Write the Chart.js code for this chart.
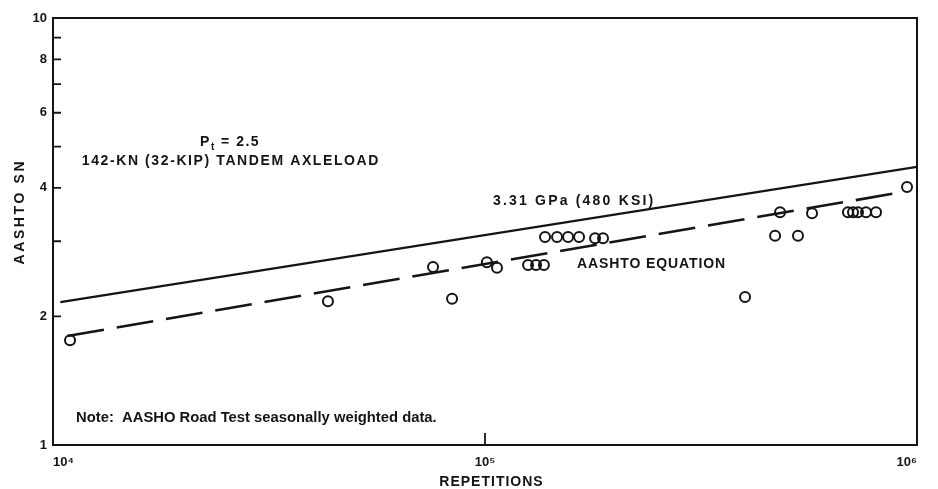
<!DOCTYPE html>
<html>
<head>
<meta charset="utf-8">
<script src="https://cdn.jsdelivr.net/npm/chart.js@4/dist/chart.umd.min.js"></script>
<style>
  html, body { margin: 0; padding: 0; background: #fff; }
  #wrap { width: 938px; height: 489px; }
</style>
</head>
<body>
<div id="wrap"><canvas id="c" width="938" height="489"></canvas></div>
<script>
// AASHO Road Test sections, seasonally weighted: load repetitions vs. structural number
const repetitions = [10950, 43300, 75800, 83900, 101000, 106600, 125800, 131300, 136900,
  137700, 146800, 155700, 165100, 179800, 187600, 399900, 469300, 530300,
  481900, 571500, 692100, 711000, 730200, 762000, 803900, 948200];
const structuralNumber = [1.76, 2.17, 2.61, 2.20, 2.68, 2.60, 2.64, 2.64, 2.64,
  3.07, 3.07, 3.07, 3.07, 3.05, 3.05, 2.22, 3.09, 3.09,
  3.51, 3.49, 3.51, 3.51, 3.51, 3.51, 3.51, 4.02];

// 3.31 GPa (480 ksi) design relation
const gpaRepetitions = [10400, 1000000];
const gpaSN = [2.16, 4.48];

// AASHTO equation
const aashtoRepetitions = [10800, 923000];
const aashtoSN = [1.80, 3.91];

// Axis ticks
const xTickValues = [1e4, 1e5, 1e6];
const xTickLabels = ['10⁴', '10⁵', '10⁶'];
const yTickValues = [1, 2, 3, 4, 5, 6, 7, 8, 9, 10];
const yTickLabels = ['1', '2', '', '4', '', '6', '', '8', '', '10'];

const INK = '#141414';
const FAMILY = '"Liberation Sans", Arial, Helvetica, sans-serif';

const toPoints = (xs, ys) => xs.map((x, i) => ({ x, y: ys[i] }));

// Text placed in data space
const annotations = [
  { text: '142-KN (32-KIP) TANDEM AXLELOAD', x: 25700, y: 4.62, align: 'center', spacing: 1.6 },
  { text: '3.31 GPa (480 KSI)', x: 104300, y: 3.73, align: 'left', spacing: 2.2 },
  { text: 'AASHTO EQUATION', x: 163300, y: 2.65, align: 'left', spacing: 0.9 }
];

function spacedText(ctx, text, x, y, spacing, align) {
  ctx.letterSpacing = spacing + 'px';
  const w = ctx.measureText(text).width - spacing;
  const left = align === 'center' ? x - w / 2 : x;
  ctx.textAlign = 'left';
  ctx.fillText(text, left, y);
  ctx.letterSpacing = '0px';
  return w;
}

const framePlugin = {
  id: 'frameAndText',
  afterDraw(chart) {
    const { ctx, chartArea: a, scales: { x, y } } = chart;
    ctx.save();
    ctx.strokeStyle = INK;
    ctx.fillStyle = INK;

    // plot frame
    ctx.lineWidth = 2;
    ctx.strokeRect(a.left, a.top, a.right - a.left, a.bottom - a.top);

    // inward tick marks
    ctx.beginPath();
    yTickValues.forEach(v => {
      if (v > 1 && v < 10) {
        const py = y.getPixelForValue(v);
        ctx.moveTo(a.left, py);
        ctx.lineTo(a.left + 8, py);
      }
    });
    xTickValues.forEach(v => {
      if (v > 1e4) {
        const px = x.getPixelForValue(v);
        ctx.moveTo(px, a.bottom);
        ctx.lineTo(px, a.bottom - 12);
      }
    });
    ctx.lineWidth = 1.8;
    ctx.stroke();

    // annotations
    ctx.textBaseline = 'middle';
    ctx.font = 'bold 14px ' + FAMILY;
    annotations.forEach(n => {
      spacedText(ctx, n.text, x.getPixelForValue(n.x), y.getPixelForValue(n.y), n.spacing, n.align);
    });

    // terminal serviceability: P_t = 2.5
    {
      const cx = x.getPixelForValue(25700);
      const cy = y.getPixelForValue(5.12);
      ctx.font = 'bold 14px ' + FAMILY;
      ctx.letterSpacing = '1.5px';
      const wP = ctx.measureText('P').width;
      const rest = ' = 2.5';
      const wRest = ctx.measureText(rest).width;
      ctx.font = 'bold 10px ' + FAMILY;
      const wT = ctx.measureText('t').width;
      const left = cx - (wP + wT + wRest) / 2;
      ctx.font = 'bold 14px ' + FAMILY;
      ctx.fillText('P', left, cy);
      ctx.font = 'bold 10px ' + FAMILY;
      ctx.fillText('t', left + wP, cy + 5);
      ctx.font = 'bold 14px ' + FAMILY;
      ctx.fillText(rest, left + wP + wT, cy);
      ctx.letterSpacing = '0px';
    }

    // note
    ctx.font = 'bold 14.8px ' + FAMILY;
    ctx.textAlign = 'left';
    ctx.fillText('Note:  AASHO Road Test seasonally weighted data.', a.left + 23, a.bottom - 27);

    // axis titles
    ctx.font = 'bold 14px ' + FAMILY;
    spacedText(ctx, 'REPETITIONS', (a.left + a.right) / 2 + 6, a.bottom + 37, 1.0, 'center');
    ctx.translate(20, 213);
    ctx.rotate(-Math.PI / 2);
    spacedText(ctx, 'AASHTO SN', 0, 0, 2.6, 'center');

    ctx.restore();
  }
};

new Chart(document.getElementById('c').getContext('2d'), {
  type: 'scatter',
  data: {
    datasets: [
      {
        label: '3.31 GPa (480 KSI)',
        data: toPoints(gpaRepetitions, gpaSN),
        showLine: true,
        borderColor: INK,
        borderWidth: 2.2,
        pointRadius: 0
      },
      {
        label: 'AASHTO EQUATION',
        data: toPoints(aashtoRepetitions, aashtoSN),
        showLine: true,
        borderColor: INK,
        borderWidth: 2.6,
        borderDash: [37, 13],
        pointRadius: 0
      },
      {
        label: 'Road Test sections',
        data: toPoints(repetitions, structuralNumber),
        showLine: false,
        pointRadius: 5,
        pointBorderWidth: 2,
        pointBorderColor: INK,
        pointBackgroundColor: 'rgba(255,255,255,0)'
      }
    ]
  },
  options: {
    responsive: false,
    animation: false,
    devicePixelRatio: 1,
    layout: { padding: { top: 18, right: 21, left: 0, bottom: 0 } },
    plugins: { legend: { display: false }, tooltip: { enabled: false } },
    scales: {
      x: {
        type: 'logarithmic',
        position: 'bottom',
        min: 1e4,
        max: 1e6,
        afterBuildTicks: s => { s.ticks = xTickValues.map(v => ({ value: v })); },
        afterFit: s => { s.height = 44; },
        grid: { display: false, drawTicks: false },
        border: { display: false },
        ticks: {
          callback: (v, i) => xTickLabels[i],
          font: { family: FAMILY, size: 13, weight: 'bold' },
          color: INK,
          padding: 10,
          maxRotation: 0,
          autoSkip: false,
          align: 'inner'
        }
      },
      y: {
        type: 'logarithmic',
        position: 'left',
        min: 1,
        max: 10,
        afterBuildTicks: s => { s.ticks = yTickValues.map(v => ({ value: v })); },
        afterFit: s => { s.width = 53; },
        grid: { display: false, drawTicks: false },
        border: { display: false },
        ticks: {
          callback: (v, i) => yTickLabels[i],
          font: { family: FAMILY, size: 13, weight: 'bold' },
          color: INK,
          padding: 6,
          autoSkip: false
        }
      }
    }
  },
  plugins: [framePlugin]
});
</script>
</body>
</html>
